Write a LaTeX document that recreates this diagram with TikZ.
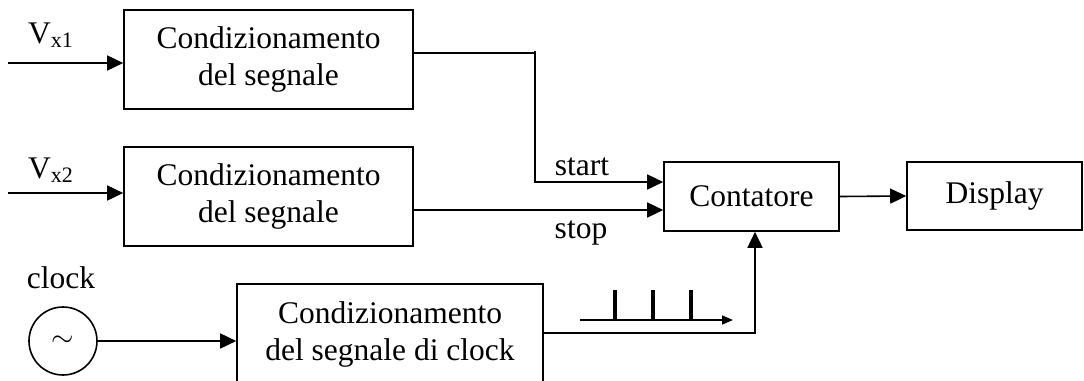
\documentclass[tikz,border=0pt]{standalone}
\usepackage{fontspec}
\setmainfont{Liberation Serif}
\usetikzlibrary{arrows.meta}
\begin{document}
\begin{tikzpicture}[x=0.5pt,y=-0.5pt,
  every node/.style={font=\fontsize{15.75}{18.5}\selectfont},
  blk/.style={draw,line width=0.8pt,align=center,inner sep=0pt},
  conn/.style={line width=0.8pt},
  arr/.style={conn,-{Triangle[length=8pt,width=7.5pt]}},
  pulse/.style={line width=2.2pt}]
\useasboundingbox (0,0) rectangle (1084,381);
\clip (0,0) rectangle (1084,381);
% blocks
\node[blk,minimum width=144.5pt,minimum height=49.5pt] (b1) at (268.5,59.5) {Condizionamento\\del segnale};
\node[blk,minimum width=144.5pt,minimum height=49.5pt] (b2) at (268.5,196.5) {Condizionamento\\del segnale};
\node[blk,minimum width=153pt,minimum height=58pt] (b3) at (390,342) {};
\node[align=center,inner sep=0pt] (t3) at (390,334) {Condizionamento\\del segnale di clock};
\node[blk,minimum width=87.5pt,minimum height=34.5pt] (cnt) at (751.5,196.5) {Contatore};
\node[blk,minimum width=87.5pt,minimum height=34pt] (disp) at (994.5,196) {Display};
\node[draw,circle,line width=0.8pt,minimum size=34pt,inner sep=0pt] (clk) at (63,341) {$\sim$};
% labels
\node[anchor=base] (lv1) at (51,43) {V\textsubscript{x1}};
\node[anchor=base] (lv2) at (51,178) {V\textsubscript{x2}};
\node[anchor=base] (lclk) at (61,288) {clock};
\node[anchor=base] (lstart) at (582,175) {start};
\node[anchor=base] (lstop) at (581,238) {stop};
% coordinates
\coordinate (in1) at (8,63);
\coordinate (in2) at (8,193);
\coordinate (s1) at (535,53);
\coordinate (s2) at (535,182);
\coordinate (st) at (600,210);
\coordinate (c1) at (755,333);
\coordinate (p0) at (580,320);
\coordinate (p1) at (733,320);
% connectors
\draw[arr] (in1) -- (in1 -| b1.west);
\draw[arr] (in2) -- (in2 -| b2.west);
\draw[conn] (s1 -| b1.east) -- (s1) -- ([yshift=1pt]s1);
\draw[arr] (s1) -- (s2) -- (s2 -| cnt.west);
\draw[arr] (st -| b2.east) -- (st -| cnt.west);
\draw[arr] (cnt.east) -- (disp.west);
\draw[arr] (clk.east) -- (clk.east -| b3.west);
\draw[arr] (c1 -| b3.east) -- (c1) -- (c1 |- cnt.south);
% pulse train
\draw[conn,-{Triangle[length=5.5pt,width=4.5pt]}] (p0) -- (p1);
\foreach \px in {615,653,691}{
  \draw[pulse] (\px,320) -- (\px,290);
}
\end{tikzpicture}
\end{document}
